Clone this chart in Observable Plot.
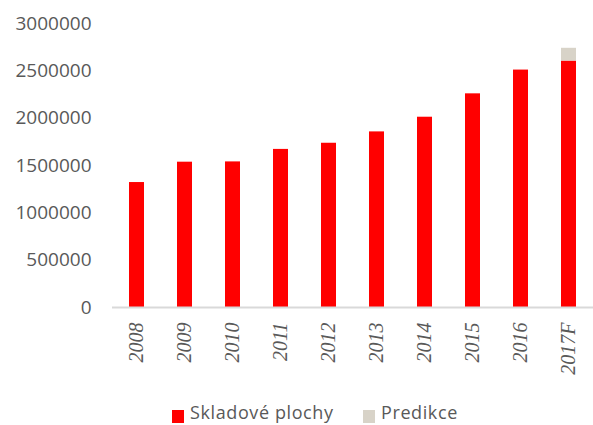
<!DOCTYPE html>
<html>
<head>
<meta charset="utf-8">
<script src="https://cdn.jsdelivr.net/npm/d3@7"></script>
<script src="https://cdn.jsdelivr.net/npm/@observablehq/plot@0.6"></script>
<style>
  html, body { margin: 0; padding: 0; background: #ffffff; }
  #chart { position: relative; width: 593px; height: 425px; overflow: hidden; }
  .legend { position: absolute; left: 0; top: 0; width: 593px; height: 425px; font-family: "Open Sans", sans-serif; font-size: 18px; letter-spacing: 0.6px; color: #595959; pointer-events: none; }
  .legend .item { position: absolute; top: 400px; height: 24px; display: flex; align-items: center; white-space: nowrap; line-height: 24px; }
  .legend .sw { width: 12px; height: 13px; margin-right: 6px; display: inline-block; position: relative; top: 4px; }
</style>
</head>
<body>
<div id="chart"></div>
<script>
const years = ["2008", "2009", "2010", "2011", "2012", "2013", "2014", "2015", "2016", "2017F"];
const skladove = [1320000, 1535000, 1538000, 1670000, 1735000, 1855000, 2010000, 2257000, 2508000, 2603000];
const predikce = [0, 0, 0, 0, 0, 0, 0, 0, 0, 135000];
const seriesNames = ["Skladové plochy", "Predikce"];
const seriesColors = ["#ff0000", "#d8d3c8"];
const yTicks = [0, 500000, 1000000, 1500000, 2000000, 2500000, 3000000];

const rows = [];
years.forEach((y, i) => {
  rows.push({year: y, series: seriesNames[0], value: skladove[i]});
  rows.push({year: y, series: seriesNames[1], value: predikce[i]});
});

const plot = Plot.plot({
  width: 593,
  height: 395,
  marginLeft: 112,
  marginRight: 0,
  marginTop: 23,
  marginBottom: 88,
  style: {background: "#ffffff", overflow: "visible"},
  x: {domain: years, paddingInner: 0.68, paddingOuter: 0.35, label: null},
  y: {domain: [0, 3000000], label: null},
  color: {domain: seriesNames, range: seriesColors},
  marks: [
    Plot.barY(rows, Plot.stackY({x: "year", y: "value", fill: "series", order: seriesNames})),
    Plot.ruleY([0], {stroke: "#d9d9d9", strokeWidth: 2}),
    Plot.axisY({ticks: yTicks, tickFormat: d3.format("d"), tickSize: 0, tickPadding: 21, fontSize: 19, fontFamily: "Open Sans", fill: "#595959", label: null}),
    Plot.axisX({tickSize: 0, tickPadding: 15, tickRotate: -90, fontSize: 20, fontFamily: "Liberation Serif", fontStyle: "italic", fill: "#595959", label: null})
  ]
});

const chart = document.getElementById("chart");
chart.appendChild(plot);

const legend = document.createElement("div");
legend.className = "legend";
const lefts = [172, 363];
seriesNames.forEach((name, i) => {
  const item = document.createElement("div");
  item.className = "item";
  item.style.left = lefts[i] + "px";
  const sw = document.createElement("span");
  sw.className = "sw";
  sw.style.background = seriesColors[i];
  const t = document.createElement("span");
  t.textContent = name;
  item.appendChild(sw);
  item.appendChild(t);
  legend.appendChild(item);
});
chart.appendChild(legend);
</script>
</body>
</html>
